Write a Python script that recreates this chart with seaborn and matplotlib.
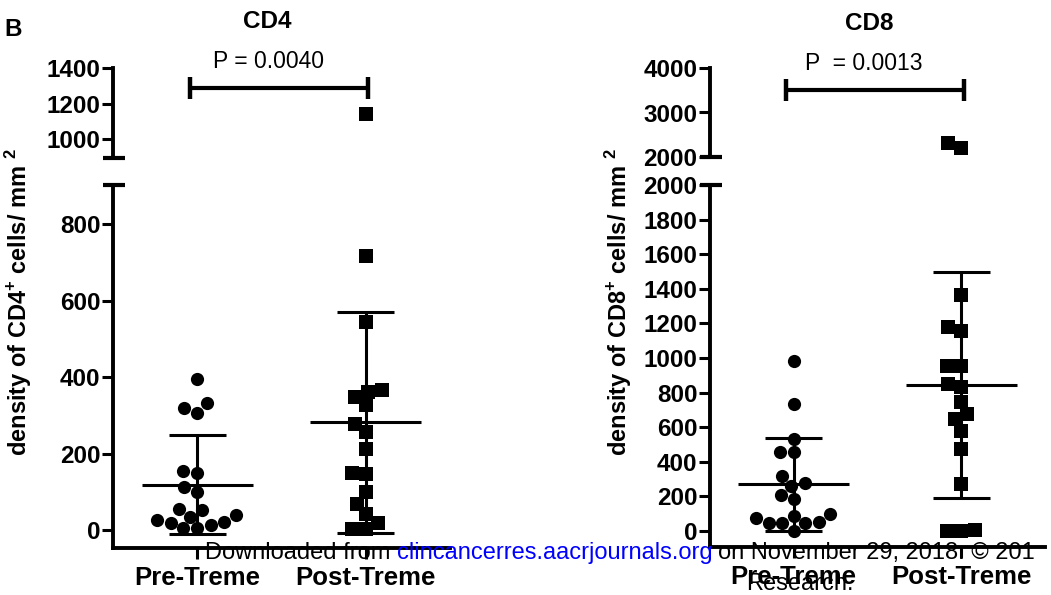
import matplotlib
matplotlib.use("Agg")
import matplotlib.pyplot as plt
import seaborn as sns
import numpy as np
import pandas as pd

# values (cells / mm^2)
groups = ["Pre-Treme", "Post-Treme"]

cd4_pre = [396, 331, 320, 307, 154, 150, 112, 99, 55, 52, 39, 35, 26, 21, 18, 13, 5, 5]
cd4_post = [1140, 716, 544, 367, 360, 347, 326, 276, 255, 213, 150, 146, 99, 68, 42, 18, 3, 3]
cd8_pre = [983, 732, 532, 459, 455, 318, 276, 260, 208, 185, 96, 89, 77, 54, 44, 44, 44, 0]
cd8_post = [2315, 2200, 1364, 1181, 1158, 954, 954, 850, 834, 744, 674, 645, 578, 472, 272, 6, 0, 0]

cd4_lower_ticks = [0, 200, 400, 600, 800]
cd4_upper_ticks = [1000, 1200, 1400]
cd8_lower_ticks = [0, 200, 400, 600, 800, 1000, 1200, 1400, 1600, 1800, 2000]
cd8_upper_ticks = [2000, 3000, 4000]

cd4_p = "P = 0.0040"
cd8_p = "P  = 0.0013"

sns.set_style("white")
plt.rcParams["font.family"] = ["Liberation Sans", "DejaVu Sans"]
plt.rcParams["font.weight"] = "bold"
plt.rcParams["text.color"] = "black"
plt.rcParams["xtick.color"] = "black"
plt.rcParams["ytick.color"] = "black"
plt.rcParams["axes.edgecolor"] = "black"
plt.rcParams["mathtext.fontset"] = "custom"
plt.rcParams["mathtext.rm"] = "Liberation Sans:bold"
plt.rcParams["mathtext.bf"] = "Liberation Sans:bold"

W, H = 1051, 595
fig = plt.figure(figsize=(W / 100, H / 100), dpi=100)


def px_axes(x0, x1, ytop, ybot):
    return fig.add_axes([x0 / W, 1 - ybot / H, (x1 - x0) / W, (ybot - ytop) / H])


def style_axis(ax, ticks, lim):
    ax.set_ylim(*lim)
    ax.set_yticks(ticks)
    ax.set_yticklabels([str(t) for t in ticks], fontsize=17.5, fontweight="bold")
    ax.tick_params(axis="y", direction="out", length=8, width=2.2, pad=1, left=True)
    ax.set_xlim(-0.5, 1.5)
    ax.set_ylabel("")
    ax.set_xlabel("")
    for s in ["top", "right"]:
        ax.spines[s].set_visible(False)
    ax.spines["left"].set_linewidth(2.8)


def plot_panel(x0, x1, up_box, lo_box, pre, post, up_ticks, up_lim, lo_ticks, lo_lim,
               bracket_y, p_text, p_y, title, title_xy, ylabel, ylabel_x):
    ax_up = px_axes(x0, x1, *up_box)
    ax_lo = px_axes(x0, x1, *lo_box)

    df_pre = pd.DataFrame({"group": groups[0], "value": pre})
    df_post = pd.DataFrame({"group": groups[1], "value": post})
    for ax in (ax_up, ax_lo):
        sns.swarmplot(data=df_pre, x="group", y="value", order=groups, ax=ax,
                      color="black", marker="o", size=9.5, linewidth=0)
        sns.swarmplot(data=df_post, x="group", y="value", order=groups, ax=ax,
                      color="black", marker="s", size=9.5, linewidth=0)

    style_axis(ax_up, up_ticks, up_lim)
    style_axis(ax_lo, lo_ticks, lo_lim)

    ax_up.spines["bottom"].set_visible(False)
    ax_up.set_xticks([])
    ax_lo.spines["bottom"].set_linewidth(2.8)
    ax_lo.set_xticks([0, 1])
    ax_lo.set_xticklabels(groups, fontsize=18.5, fontweight="bold")
    ax_lo.tick_params(axis="x", direction="out", length=8, width=2.2, pad=5, bottom=True)

    # caps at the axis break
    ax_up.plot([-0.03, 0.035], [0, 0], transform=ax_up.transAxes, color="black",
               lw=3, clip_on=False, solid_capstyle="butt")
    ax_lo.plot([-0.03, 0.035], [1, 1], transform=ax_lo.transAxes, color="black",
               lw=3, clip_on=False, solid_capstyle="butt")

    # mean +/- SD
    for i, vals in enumerate([pre, post]):
        m = np.mean(vals)
        sd = np.std(vals, ddof=1)
        ax_lo.hlines(m, i - 0.33, i + 0.33, color="black", lw=2.2)
        ax_lo.hlines([m - sd, m + sd], i - 0.17, i + 0.17, color="black", lw=2.2)
        ax_lo.vlines(i, m - sd, m + sd, color="black", lw=2.2)

    # significance bracket
    ax_up.plot([-0.045, 1.015], [bracket_y, bracket_y], color="black", lw=3,
               solid_capstyle="round", clip_on=False)
    ax_up.plot([-0.045, 1.015], [bracket_y, bracket_y], linestyle="none", marker="|",
               markersize=16, markeredgewidth=3.2, color="black", clip_on=False)
    ax_up.text(0.42, p_y, p_text, ha="center", va="center", fontsize=16.5,
               fontweight="normal", clip_on=False)

    fig.text(title_xy[0] / W, 1 - title_xy[1] / H, title, ha="center", va="center",
             fontsize=17.5, fontweight="bold")
    fig.text(ylabel_x / W, 1 - 302 / H, ylabel, rotation=90, ha="center", va="center",
             fontsize=17, fontweight="bold")
    return ax_lo


plot_panel(113, 450, (68, 158), (185, 548), cd4_pre, cd4_post,
           cd4_upper_ticks, (893, 1400), cd4_lower_ticks, (-47, 902),
           1290, cd4_p, 1439, "CD4", (267, 21),
           r"density of CD4$^{\mathbf{+}}$ cells/ mm $^{\mathbf{2}}$", 19)

ax8 = plot_panel(710, 1045, (68, 157), (185, 547), cd8_pre, cd8_post,
                 cd8_upper_ticks, (2000, 4000), cd8_lower_ticks, (-92, 2000),
                 3500, cd8_p, 4090, "CD8", (869, 24),
                 r"density of CD8$^{\mathbf{+}}$ cells/ mm $^{\mathbf{2}}$", 619)

fig.text(13 / W, 1 - 29 / H, "B", ha="center", va="center", fontsize=17.5, fontweight="bold")

# download watermark
t1 = fig.text(205 / W, 1 - 553 / H, "Downloaded from", ha="left", va="center",
              fontsize=17, fontweight="normal")
t2 = ax8.annotate("clincancerres.aacrjournals.org", xy=(1, 0), xycoords=t1,
                  xytext=(4.5, 0), textcoords="offset points", va="bottom",
                  color="#0000ff", fontsize=17, fontweight="normal", annotation_clip=False)
t3 = ax8.annotate("on November 29, 2018. \u00a9 201", xy=(1, 0), xycoords=t2,
                  xytext=(4.5, 0), textcoords="offset points", va="bottom",
                  fontsize=17, fontweight="normal", annotation_clip=False)
fig.text(800 / W, 1 - 584 / H, "Research.", ha="center", va="center",
         fontsize=17, fontweight="normal")

fig.savefig("out.png", dpi=100)
